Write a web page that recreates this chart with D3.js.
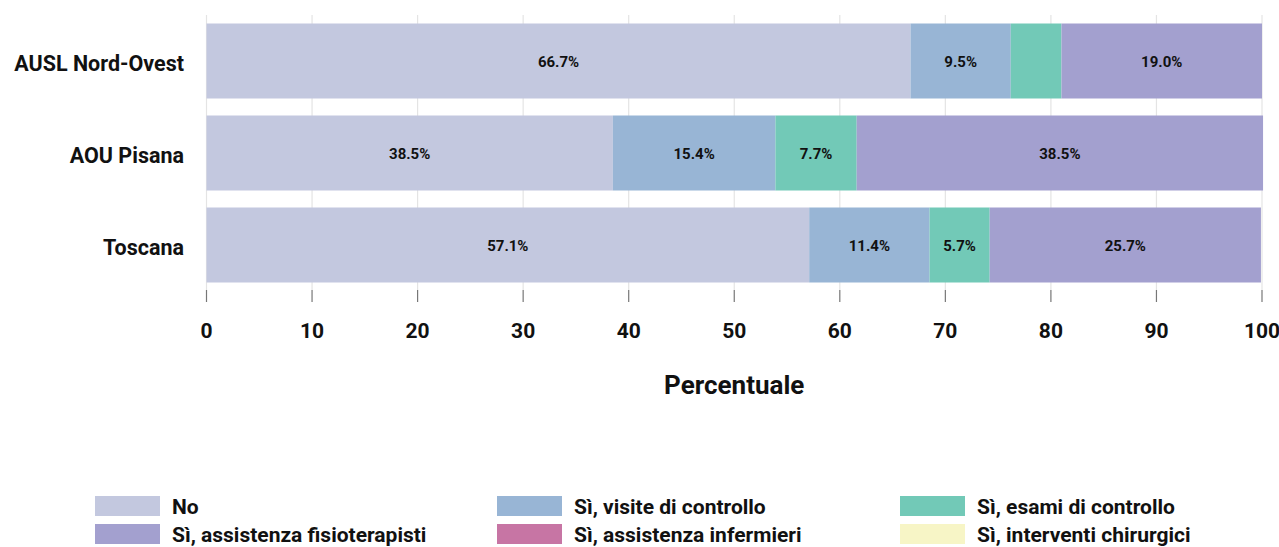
<!DOCTYPE html>
<html>
<head>
<meta charset="utf-8">
<script src="https://cdn.jsdelivr.net/npm/d3@7"></script>
<style>
  body { margin: 0; background: #fff; }
  svg text { font-family: Roboto, "DejaVu Sans", sans-serif; font-weight: bold; fill: #111; }
</style>
</head>
<body>
<div id="chart"></div>
<script>
// categories (top to bottom)
var categories = ["AUSL Nord-Ovest", "AOU Pisana", "Toscana"];
var seriesNames = ["No", "Sì, visite di controllo", "Sì, esami di controllo",
                   "Sì, assistenza fisioterapisti", "Sì, assistenza infermieri", "Sì, interventi chirurgici"];
var seriesColors = ["#c3c8df", "#98b5d5", "#72c9b7", "#a3a0cf", "#c775a4", "#f7f5c6"];
// values per series, in category order
var valNo        = [66.7, 38.5, 57.1];
var valVisite    = [9.5, 15.4, 11.4];
var valEsami     = [4.8, 7.7, 5.7];
var valFisio     = [19.0, 38.5, 25.7];
var valInferm    = [0, 0, 0];
var valChirurg   = [0, 0, 0];
var xTicks = [0, 10, 20, 30, 40, 50, 60, 70, 80, 90, 100];

var W = 1279, H = 547;
var svg = d3.select("#chart").append("svg").attr("width", W).attr("height", H);

var x = d3.scaleLinear().domain([0, 100]).range([206.5, 1262]);
var y = d3.scaleBand().domain(categories).range([15, 291]).paddingInner(17/92).paddingOuter(8.5/92);

// table for stacking
var table = categories.map(function(c, i){
  return {cat: c, s0: valNo[i], s1: valVisite[i], s2: valEsami[i], s3: valFisio[i], s4: valInferm[i], s5: valChirurg[i]};
});
var keys = ["s0","s1","s2","s3","s4","s5"];
var stacked = d3.stack().keys(keys)(table);

// gridlines
svg.append("g").selectAll("line").data(xTicks).enter().append("line")
  .attr("x1", d => x(d)).attr("x2", d => x(d))
  .attr("y1", 15).attr("y2", 290)
  .attr("stroke", "#e4e4e4").attr("stroke-width", 1.2);

// bars
var layers = svg.append("g").selectAll("g").data(stacked).enter().append("g")
  .attr("fill", (d, i) => seriesColors[i]);
layers.selectAll("rect").data(d => d).enter().append("rect")
  .attr("x", d => x(d[0]))
  .attr("width", d => x(d[1]) - x(d[0]))
  .attr("y", d => y(d.data.cat))
  .attr("height", y.bandwidth());

// bar labels (only segments wide enough)
layers.selectAll("text").data(d => d.filter(s => s[1] - s[0] >= 5.5)).enter().append("text")
  .attr("x", d => (x(d[0]) + x(d[1])) / 2)
  .attr("y", d => y(d.data.cat) + y.bandwidth() / 2)
  .attr("dy", "0.4em")
  .attr("text-anchor", "middle")
  .style("font-size", "15px")
  .text(d => (d[1] - d[0]).toFixed(1) + "%");

// x axis ticks
var xa = svg.append("g");
xa.selectAll("line").data(xTicks).enter().append("line")
  .attr("x1", d => x(d)).attr("x2", d => x(d))
  .attr("y1", 290).attr("y2", 302)
  .attr("stroke", "#777").attr("stroke-width", 1.2);
xa.selectAll("text").data(xTicks).enter().append("text")
  .attr("x", d => x(d)).attr("y", 330).attr("dy", "0.37em")
  .attr("text-anchor", "middle").style("font-size", "21px")
  .text(d => d);

svg.append("text").attr("x", x(50)).attr("y", 384).attr("dy", "0.37em")
  .attr("text-anchor", "middle").style("font-size", "26px").text("Percentuale");

// y labels
svg.append("g").selectAll("text").data(categories).enter().append("text")
  .attr("x", 184).attr("y", d => y(d) + y.bandwidth() / 2).attr("dy", "0.45em")
  .attr("text-anchor", "end").style("font-size", "21.5px")
  .text(d => d);

// legend (3 columns, 2 rows)
var legendOrder = [0, 1, 2, 3, 4, 5];
var colX = [95, 497, 900], rowY = [506, 534];
var lg = svg.append("g").selectAll("g").data(legendOrder).enter().append("g")
  .attr("transform", (d, i) => "translate(" + colX[i % 3] + "," + rowY[Math.floor(i / 3)] + ")");
lg.append("rect").attr("x", 0).attr("y", -10).attr("width", 65).attr("height", 20)
  .attr("fill", d => seriesColors[d]);
lg.append("text").attr("x", 77).attr("y", 0).attr("dy", "0.38em")
  .style("font-size", "21px").text(d => seriesNames[d]);
</script>
</body>
</html>
